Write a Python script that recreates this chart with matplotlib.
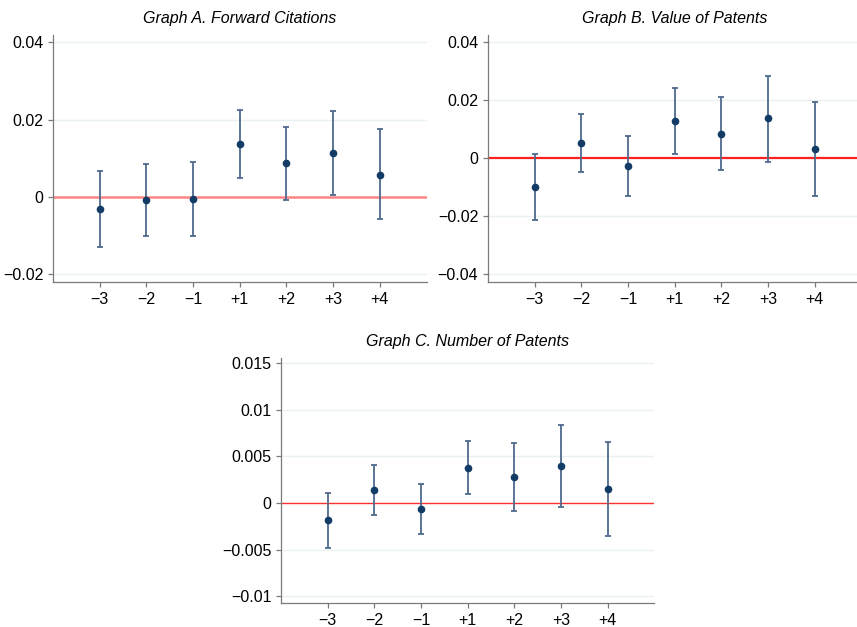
import matplotlib
matplotlib.use("Agg")
import matplotlib.pyplot as plt
import numpy as np

plt.rcParams['font.family'] = ['Liberation Sans', 'DejaVu Sans']

periods = ["\u22123", "\u22122", "\u22121", "+1", "+2", "+3", "+4"]

# Graph A. Forward Citations
cite_est = [-0.0032, -0.0009, -0.0006, 0.0136, 0.0088, 0.0114, 0.0058]
cite_hi = [0.0067, 0.0084, 0.0090, 0.0225, 0.0181, 0.0222, 0.0175]
cite_lo = [-0.0129, -0.0101, -0.0102, 0.0048, -0.0008, 0.0005, -0.0056]

# Graph B. Value of Patents
value_est = [-0.0101, 0.0052, -0.0029, 0.0125, 0.0083, 0.0136, 0.0030]
value_hi = [0.0013, 0.0152, 0.0076, 0.0239, 0.0209, 0.0283, 0.0192]
value_lo = [-0.0214, -0.0049, -0.0131, 0.0013, -0.0041, -0.0014, -0.0131]

# Graph C. Number of Patents
num_est = [-0.00186, 0.00136, -0.00064, 0.00375, 0.00275, 0.00396, 0.00154]
num_hi = [0.00104, 0.00404, 0.00207, 0.00664, 0.00643, 0.00832, 0.00657]
num_lo = [-0.00479, -0.00129, -0.00336, 0.00096, -0.00089, -0.00039, -0.00354]

fig = plt.figure(figsize=(8.57, 6.27), dpi=100)

W = 373.5 / 857
axA = fig.add_axes([53 / 857, 1 - 282 / 627, W, 247 / 627])
axB = fig.add_axes([488 / 857, 1 - 282 / 627, W, 247 / 627])
axC = fig.add_axes([281 / 857, 1 - 602.7 / 627, W, 244.4 / 627])


def panel(ax, title, est, lo, hi, yticks, ylabels, ylim, zcol, zlw):
    x = np.arange(1, len(est) + 1)
    est = np.array(est)
    err = [est - np.array(lo), np.array(hi) - est]
    for t in yticks:
        if t != 0:
            ax.axhline(t, color='#eaf1f3', lw=1, zorder=0)
    ax.axhline(0, color=zcol, lw=zlw, zorder=1)
    ax.errorbar(x, est, yerr=err, fmt='none', ecolor='#4f6a8c', elinewidth=1.3,
                capsize=2.2, capthick=1.3, zorder=2)
    ax.plot(x, est, 'o', color='#123c66', ms=4.5, zorder=3)
    ax.set_xlim(0, 8)
    ax.set_ylim(*ylim)
    ax.set_xticks(x)
    ax.set_xticklabels(periods)
    ax.set_yticks(yticks)
    ax.set_yticklabels(ylabels)
    for s in ['top', 'right']:
        ax.spines[s].set_visible(False)
    for s in ['left', 'bottom']:
        ax.spines[s].set_color('#7a7a7a')
        ax.spines[s].set_linewidth(0.9)
    ax.tick_params(colors='#7a7a7a', labelcolor='black', labelsize=11.5,
                   length=3.5, width=0.9)
    ax.tick_params(axis='x', pad=4)
    ax.set_facecolor('white')
    ax.set_title(title, fontsize=11.5, style='italic', pad=9)


panel(axA, "Graph A. Forward Citations", cite_est, cite_lo, cite_hi,
      [-0.02, 0, 0.02, 0.04], ["\u22120.02", "0", "0.02", "0.04"],
      (-0.022, 0.0419), '#ff8585', 1.8)
panel(axB, "Graph B. Value of Patents", value_est, value_lo, value_hi,
      [-0.04, -0.02, 0, 0.02, 0.04], ["\u22120.04", "\u22120.02", "0", "0.02", "0.04"],
      (-0.0428, 0.0423), '#ff2020', 1.6)
panel(axC, "Graph C. Number of Patents", num_est, num_lo, num_hi,
      [-0.01, -0.005, 0, 0.005, 0.01, 0.015],
      ["\u22120.01", "\u22120.005", "0", "0.005", "0.01", "0.015"],
      (-0.01068, 0.0155), '#ff3030', 1.0)

fig.savefig("out.png", dpi=100)
